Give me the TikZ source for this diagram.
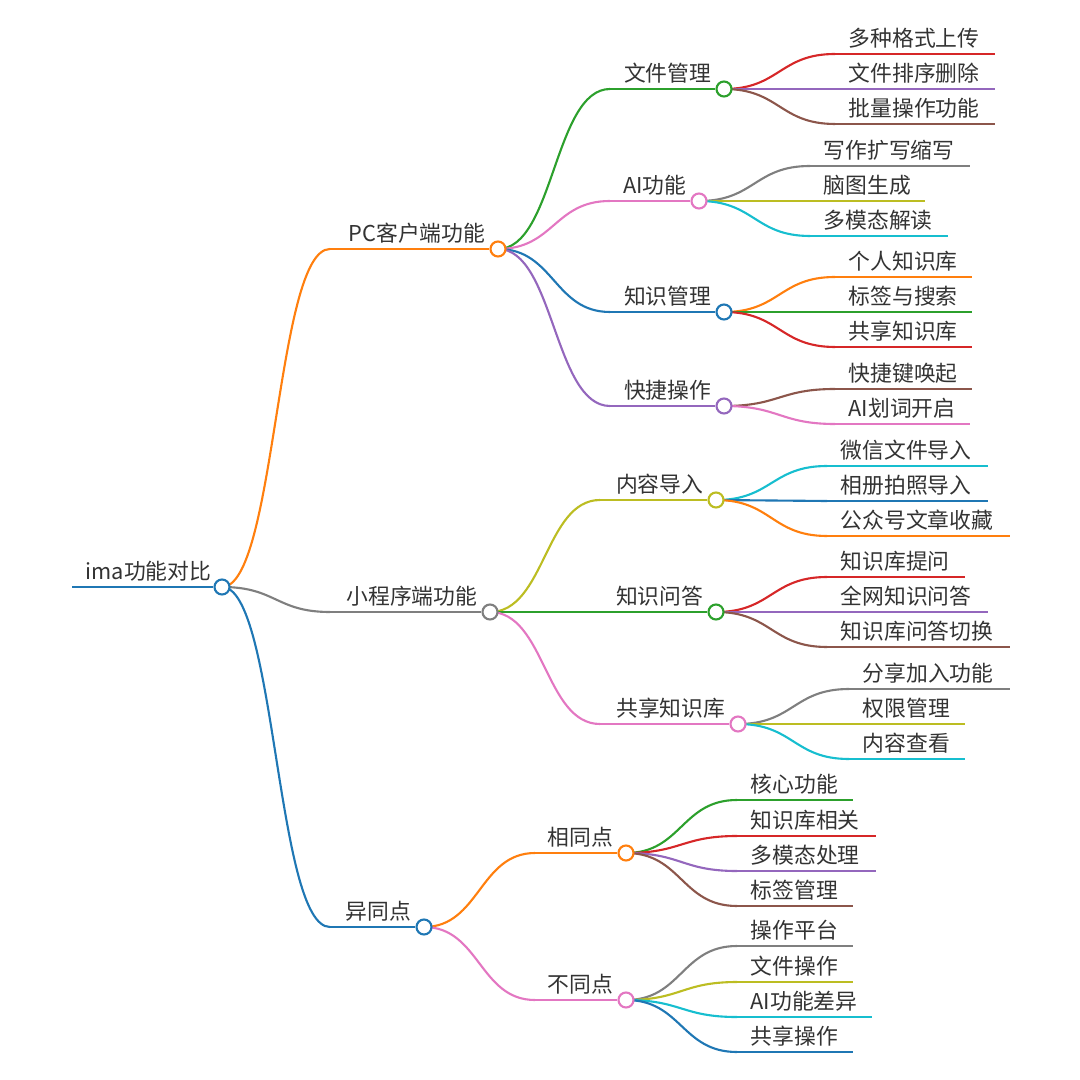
\documentclass[tikz,border=0pt]{standalone}
\usepackage{fontspec}
\setmainfont{Noto Sans CJK SC}
\usepackage{xcolor}
\usetikzlibrary{calc,backgrounds}
\definecolor{cOrange}{HTML}{FF7F0E}
\definecolor{cGreen}{HTML}{2CA02C}
\definecolor{cBlue}{HTML}{1F77B4}
\definecolor{cRed}{HTML}{D62728}
\definecolor{cPurple}{HTML}{9467BD}
\definecolor{cBrown}{HTML}{8C564B}
\definecolor{cPink}{HTML}{E377C2}
\definecolor{cGray}{HTML}{7F7F7F}
\definecolor{cOlive}{HTML}{BCBD22}
\definecolor{cCyan}{HTML}{17BECF}
\definecolor{txt}{HTML}{333333}
\tikzset{
  line/.style={line width=0.6pt},
  hub/.style={circle,draw=#1,fill=white,line width=0.6pt,minimum size=0.15cm,inner sep=0pt},
  lbl/.style={text=txt,font=\fontsize{6.2}{7}\selectfont,inner xsep=0pt,inner ysep=1.3pt}
}
% curve from a parent circle to the start of a horizontal line
\newcommand\bend[3]{%
  \begin{pgfonlayer}{background}
  \draw[line,#3] let \p1=(#1), \p2=(#2) in
    (\p1) .. controls ({(\x1+\x2)/2},\y1) and ({(\x1+\x2)/2},\y2) .. (\p2);
  \end{pgfonlayer}}
% \hub{name}{parent}{y}{xs}{xcircle}{colour}{text}
\newcommand\hubnode[7]{%
  \coordinate (#1-s) at (#4,#3);
  \node[hub=#6] (#1) at (#5,#3) {};
  \node[lbl,anchor=south east] (#1-t) at (#5-12,#3) {#7};
  \bend{#2}{#1-s}{#6}
  \begin{pgfonlayer}{background}\draw[line,#6] (#1-s) -- (#1);\end{pgfonlayer}}
% \leaf{name}{parent}{y}{xs}{xe}{colour}{text}
\newcommand\leaf[7]{%
  \coordinate (#1-s) at (#4,#3);
  \coordinate (#1-e) at (#5,#3);
  \node[lbl,anchor=south west] (#1) at (#4+13,#3) {#7};
  \bend{#2}{#1-s}{#6}
  \begin{pgfonlayer}{background}\draw[line,#6] (#1-s) -- (#1-e);\end{pgfonlayer}}

\begin{document}
\begin{tikzpicture}[x=0.01cm,y=-0.01cm]
  \useasboundingbox (0,0) rectangle (1080,1080);

  % root
  \coordinate (root-s) at (72,587);
  \node[hub=cBlue] (root) at (222,587) {};
  \node[lbl,anchor=south west] (root-t) at (85,587) {ima功能对比};
  \begin{pgfonlayer}{background}\draw[line,cBlue] (root-s) -- (root);\end{pgfonlayer}

  % first level
  \hubnode{pc}{root}{249}{330}{498}{cOrange}{PC客户端功能}
  \hubnode{mini}{root}{612}{330}{490}{cGray}{小程序端功能}
  \hubnode{diff}{root}{927}{330}{424}{cBlue}{异同点}

  % PC客户端功能
  \hubnode{file}{pc}{89}{610}{724}{cGreen}{文件管理}
  \hubnode{ai}{pc}{201}{610}{699}{cPink}{AI功能}
  \hubnode{know}{pc}{312}{610}{724}{cBlue}{知识管理}
  \hubnode{fast}{pc}{406}{610}{724}{cPurple}{快捷操作}

  \leaf{f1}{file}{54}{835}{995}{cRed}{多种格式上传}
  \leaf{f2}{file}{89}{835}{995}{cPurple}{文件排序删除}
  \leaf{f3}{file}{124}{835}{995}{cBrown}{批量操作功能}

  \leaf{a1}{ai}{166}{810}{970}{cGray}{写作扩写缩写}
  \leaf{a2}{ai}{201}{810}{925}{cOlive}{脑图生成}
  \leaf{a3}{ai}{236}{810}{948}{cCyan}{多模态解读}

  \leaf{k1}{know}{277}{835}{972}{cOrange}{个人知识库}
  \leaf{k2}{know}{312}{835}{972}{cGreen}{标签与搜索}
  \leaf{k3}{know}{347}{835}{972}{cRed}{共享知识库}

  \leaf{q1}{fast}{389}{835}{972}{cBrown}{快捷键唤起}
  \leaf{q2}{fast}{424}{835}{970}{cPink}{AI划词开启}

  % 小程序端功能
  \hubnode{imp}{mini}{500}{600}{716}{cOlive}{内容导入}
  \hubnode{qa}{mini}{612}{600}{716}{cGreen}{知识问答}
  \hubnode{share}{mini}{724}{600}{738}{cPink}{共享知识库}

  \leaf{i1}{imp}{466}{827}{988}{cCyan}{微信文件导入}
  \leaf{i2}{imp}{501}{827}{988}{cBlue}{相册拍照导入}
  \leaf{i3}{imp}{536}{827}{1010}{cOrange}{公众号文章收藏}

  \leaf{w1}{qa}{577}{827}{965}{cRed}{知识库提问}
  \leaf{w2}{qa}{612}{827}{988}{cPurple}{全网知识问答}
  \leaf{w3}{qa}{647}{827}{1010}{cBrown}{知识库问答切换}

  \leaf{s1}{share}{689}{849}{1010}{cGray}{分享加入功能}
  \leaf{s2}{share}{724}{849}{965}{cOlive}{权限管理}
  \leaf{s3}{share}{759}{849}{965}{cCyan}{内容查看}

  % 异同点
  \hubnode{same}{diff}{853}{535}{626}{cOrange}{相同点}
  \hubnode{other}{diff}{1000}{535}{626}{cPink}{不同点}

  \leaf{c1}{same}{800}{737}{853}{cGreen}{核心功能}
  \leaf{c2}{same}{836}{737}{876}{cRed}{知识库相关}
  \leaf{c3}{same}{871}{737}{876}{cPurple}{多模态处理}
  \leaf{c4}{same}{906}{737}{853}{cBrown}{标签管理}

  \leaf{d1}{other}{946}{737}{853}{cGray}{操作平台}
  \leaf{d2}{other}{982}{737}{853}{cOlive}{文件操作}
  \leaf{d3}{other}{1017}{737}{872}{cCyan}{AI功能差异}
  \leaf{d4}{other}{1052}{737}{853}{cBlue}{共享操作}
\end{tikzpicture}
\end{document}
